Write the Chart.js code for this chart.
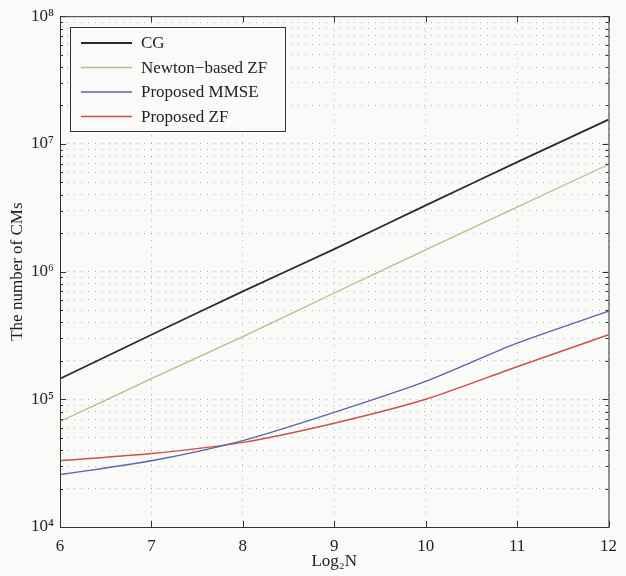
<!DOCTYPE html>
<html>
<head>
<meta charset="utf-8">
<script src="https://cdn.jsdelivr.net/npm/chart.js@4.4.0/dist/chart.umd.min.js"></script>
<style>
  html, body { margin: 0; padding: 0; background: #fafaf8; }
  #wrap { width: 626px; height: 576px; }
</style>
</head>
<body>
<div id="wrap"><canvas id="cmChart" width="626" height="576"></canvas></div>
<script>
// Dữ liệu (trục y logarit)
const log2N = [6, 7, 8, 9, 10, 11, 12];
const cgValues = [1.45e5, 3.2e5, 7.0e5, 1.5e6, 3.3e6, 7.2e6, 1.55e7];
const newtonZfValues = [6.7e4, 1.45e5, 3.1e5, 6.8e5, 1.48e6, 3.2e6, 6.9e6];
const proposedMmseValues = [2.57e4, 3.3e4, 4.75e4, 7.9e4, 1.38e5, 2.75e5, 4.9e5];
const proposedZfValues = [3.3e4, 3.76e4, 4.6e4, 6.5e4, 1.0e5, 1.8e5, 3.2e5];
const seriesLabels = ["CG", "Newton\u2212based ZF", "Proposed MMSE", "Proposed ZF"];
const xTickValues = [6, 7, 8, 9, 10, 11, 12];
const yDecades = [4, 5, 6, 7, 8];

const serif = "'Liberation Serif', 'Times New Roman', serif";
const supDigits = { "0": "\u2070", "1": "\u00b9", "2": "\u00b2", "3": "\u00b3", "4": "\u2074",
  "5": "\u2075", "6": "\u2076", "7": "\u2077", "8": "\u2078", "9": "\u2079" };
const toSup = (n) => String(n).split("").map(d => supDigits[d]).join("");

const ctx = document.getElementById("cmChart").getContext("2d");

// Vẽ khung, vạch chia hướng vào trong, tiêu đề trục và chú thích
const matlabFrame = {
  id: "matlabFrame",
  afterDraw(chart) {
    const { ctx, chartArea: a, scales } = chart;
    const x = scales.x, y = scales.y;
    ctx.save();
    ctx.strokeStyle = "#333";
    ctx.lineWidth = 1;
    ctx.setLineDash([]);
    ctx.strokeRect(a.left + 0.5, a.top + 0.5, a.right - a.left, a.bottom - a.top);

    // vạch chia trục x (trên và dưới)
    ctx.beginPath();
    xTickValues.forEach(v => {
      const px = Math.round(x.getPixelForValue(v)) + 0.5;
      ctx.moveTo(px, a.bottom); ctx.lineTo(px, a.bottom - 6);
      ctx.moveTo(px, a.top); ctx.lineTo(px, a.top + 6);
    });
    // vạch chia trục y (trái và phải), chính và phụ
    y.ticks.forEach(t => {
      const py = Math.round(y.getPixelForValue(t.value)) + 0.5;
      const major = Number.isInteger(Math.log10(t.value));
      const len = major ? 6 : 3;
      ctx.moveTo(a.left, py); ctx.lineTo(a.left + len, py);
      ctx.moveTo(a.right, py); ctx.lineTo(a.right - len, py);
    });
    ctx.stroke();

    // tiêu đề trục
    ctx.fillStyle = "#222";
    ctx.font = "17px " + serif;
    ctx.textAlign = "center";
    ctx.textBaseline = "alphabetic";
    ctx.fillText("Log\u2082N", (a.left + a.right) / 2, 566);
    ctx.save();
    ctx.translate(22, (a.top + a.bottom) / 2);
    ctx.rotate(-Math.PI / 2);
    ctx.fillText("The number of CMs", 0, 0);
    ctx.restore();

    // chú thích
    const bx = 70, by = 27, bw = 215, bh = 104;
    ctx.fillStyle = "#fafaf8";
    ctx.fillRect(bx, by, bw, bh);
    ctx.strokeStyle = "#333";
    ctx.strokeRect(bx + 0.5, by + 0.5, bw, bh);
    ctx.textAlign = "left";
    ctx.textBaseline = "middle";
    chart.data.datasets.forEach((ds, i) => {
      const rowY = 43 + i * 24.5;
      ctx.strokeStyle = ds.borderColor;
      ctx.lineWidth = ds.borderWidth;
      ctx.beginPath();
      ctx.moveTo(81, rowY); ctx.lineTo(132, rowY);
      ctx.stroke();
      ctx.fillStyle = "#222";
      ctx.fillText(ds.label, 141, rowY + 1);
    });
    ctx.restore();
  }
};

const makeSeries = (label, data, color, width) => ({
  label: label,
  data: log2N.map((v, i) => ({ x: v, y: data[i] })),
  borderColor: color,
  borderWidth: width,
  pointRadius: 0,
  fill: false,
  tension: 0.25,
});

const gridDots = { color: "rgba(70,70,70,0.4)", lineWidth: 1, drawTicks: false };

new Chart(ctx, {
  type: "line",
  data: {
    datasets: [
      makeSeries(seriesLabels[0], cgValues, "#2b2b2b", 1.8),
      makeSeries(seriesLabels[1], newtonZfValues, "#abc485", 1.3),
      makeSeries(seriesLabels[2], proposedMmseValues, "#5867a9", 1.4),
      makeSeries(seriesLabels[3], proposedZfValues, "#c9524c", 1.5),
    ],
  },
  options: {
    responsive: false,
    devicePixelRatio: 1,
    animation: false,
    layout: { padding: { top: 16, right: 10, left: 0, bottom: 0 } },
    plugins: { legend: { display: false }, tooltip: { enabled: false } },
    scales: {
      x: {
        type: "linear",
        min: 6,
        max: 12,
        afterBuildTicks: (scale) => { scale.ticks = xTickValues.map(v => ({ value: v })); },
        afterFit: (scale) => { scale.height = 49; },
        ticks: { color: "#222", font: { family: serif, size: 17 }, padding: 9 },
        grid: gridDots,
        border: { display: false, dash: [1, 6] },
      },
      y: {
        type: "logarithmic",
        min: 1e4,
        max: 1e8,
        afterBuildTicks: (scale) => {
          const ticks = [];
          yDecades.forEach(p => {
            for (let m = 1; m <= 9; m++) {
              if (p === 8 && m > 1) break;
              ticks.push({ value: m * Math.pow(10, p) });
            }
          });
          scale.ticks = ticks;
        },
        afterFit: (scale) => { scale.width = 60; },
        ticks: {
          autoSkip: false,
          color: "#222",
          font: { family: serif, size: 17 },
          padding: 6,
          callback: (v) => {
            const p = Math.log10(v);
            return Math.abs(p - Math.round(p)) < 1e-9 ? "10" + toSup(Math.round(p)) : "";
          },
        },
        grid: gridDots,
        border: { display: false, dash: [1, 6] },
      },
    },
  },
  plugins: [matlabFrame],
});
</script>
</body>
</html>
